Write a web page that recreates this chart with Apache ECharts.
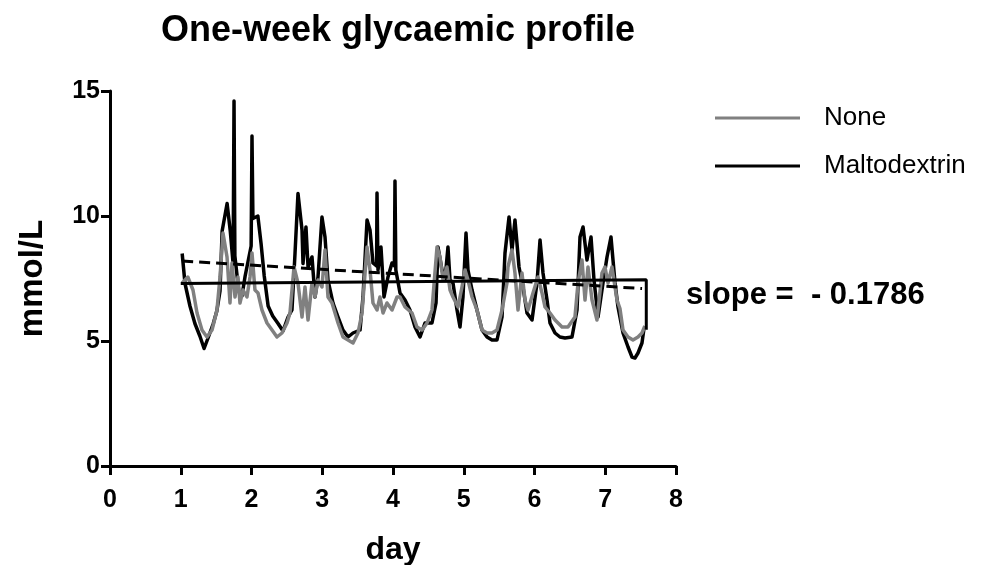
<!DOCTYPE html>
<html>
<head>
<meta charset="utf-8">
<script src="https://cdn.jsdelivr.net/npm/echarts@6/dist/echarts.min.js"></script>
<style>
html,body{margin:0;padding:0;background:#fff;}
#chart{width:1003px;height:565px;}
</style>
</head>
<body>
<div id="chart"></div>
<script>
// ---- data ----
var titleText = 'One-week glycaemic profile';
var xTicks = [0, 1, 2, 3, 4, 5, 6, 7, 8];
var yTicks = [0, 5, 10, 15];
var seriesNames = ['None', 'Maltodextrin'];
var slopeText = 'slope =  - 0.1786';

// Maltodextrin (black) glucose trace: [day, mmol/L]
var maltodextrinTrace = [
  [1.02, 8.5], [1.06, 7.3], [1.13, 6.4], [1.20, 5.7], [1.27, 5.2], [1.33, 4.7], [1.39, 5.15],
  [1.46, 5.7], [1.51, 6.2], [1.555, 7.0], [1.585, 9.4], [1.655, 10.5], [1.70, 9.4], [1.74, 8.1],
  [1.753, 14.6], [1.765, 8.4], [1.82, 7.0], [1.865, 6.8], [1.91, 7.6], [1.995, 8.8], [2.007, 13.2],
  [2.02, 9.9], [2.09, 10.0], [2.135, 8.9], [2.18, 7.6], [2.235, 6.4], [2.30, 6.0], [2.375, 5.7],
  [2.445, 5.4], [2.515, 5.95], [2.572, 6.24], [2.615, 8.5], [2.657, 10.9], [2.714, 9.44],
  [2.728, 8.1], [2.770, 9.56], [2.799, 7.96], [2.855, 8.36], [2.898, 6.76], [2.940, 7.56],
  [2.996, 9.96], [3.039, 9.16], [3.081, 7.44], [3.152, 6.52], [3.223, 5.96], [3.293, 5.44],
  [3.364, 5.16], [3.435, 5.32], [3.534, 5.44], [3.576, 6.76], [3.633, 9.84], [3.675, 9.44],
  [3.717, 8.12], [3.768, 8.0], [3.774, 10.92], [3.788, 7.84], [3.830, 8.76], [3.873, 6.76],
  [3.929, 7.56], [3.986, 8.12], [4.020, 8.0], [4.028, 11.4], [4.040, 7.84], [4.099, 6.92],
  [4.170, 6.64], [4.240, 6.24], [4.311, 5.56], [4.382, 5.16], [4.452, 5.72], [4.551, 5.72],
  [4.608, 6.52], [4.636, 8.76], [4.693, 7.84], [4.735, 7.44], [4.777, 8.76], [4.806, 7.44],
  [4.848, 7.32], [4.905, 6.24], [4.947, 5.56], [4.989, 6.76], [5.032, 9.32], [5.060, 7.84],
  [5.117, 7.04], [5.187, 6.24], [5.258, 5.44], [5.329, 5.16], [5.399, 5.04], [5.470, 5.04],
  [5.541, 5.96], [5.583, 8.52], [5.640, 9.96], [5.682, 8.64], [5.724, 9.84], [5.781, 7.96],
  [5.837, 7.16], [5.894, 6.12], [5.965, 5.84], [6.035, 7.32], [6.078, 9.04], [6.120, 7.72],
  [6.177, 6.64], [6.219, 5.72], [6.290, 5.32], [6.360, 5.16], [6.431, 5.12], [6.530, 5.16],
  [6.601, 6.24], [6.643, 9.16], [6.686, 9.56], [6.742, 8.24], [6.799, 9.16], [6.841, 7.44],
  [6.898, 5.96], [6.968, 7.32], [7.025, 8.36], [7.081, 9.16], [7.138, 7.32], [7.180, 6.36],
  [7.251, 5.32], [7.322, 4.76], [7.378, 4.36], [7.420, 4.32], [7.463, 4.52], [7.519, 4.92],
  [7.545, 5.45]
];

// None (grey) glucose trace: [day, mmol/L]
var noneTrace = [
  [1.02, 7.32], [1.10, 7.56], [1.173, 7.04], [1.230, 6.12], [1.300, 5.44], [1.371, 5.16],
  [1.442, 5.44], [1.512, 6.24], [1.555, 7.56], [1.597, 9.32], [1.654, 8.36], [1.696, 6.52],
  [1.724, 8.12], [1.767, 6.76], [1.809, 7.56], [1.837, 6.52], [1.880, 7.04], [1.936, 6.76],
  [1.979, 7.56], [2.007, 8.52], [2.049, 7.04], [2.092, 6.92], [2.148, 6.24], [2.219, 5.72],
  [2.290, 5.44], [2.360, 5.16], [2.431, 5.32], [2.502, 5.72], [2.544, 6.12], [2.601, 7.96],
  [2.657, 7.32], [2.714, 5.96], [2.756, 7.16], [2.799, 5.84], [2.855, 7.32], [2.898, 6.76],
  [2.940, 7.44], [2.996, 7.16], [3.039, 8.64], [3.081, 6.76], [3.138, 6.52], [3.223, 5.72],
  [3.293, 5.16], [3.364, 5.04], [3.435, 4.92], [3.505, 5.32], [3.562, 6.12], [3.633, 8.76],
  [3.675, 7.84], [3.717, 6.52], [3.774, 6.24], [3.816, 6.76], [3.859, 6.12], [3.915, 6.52],
  [3.986, 6.24], [4.057, 6.76], [4.099, 6.76], [4.170, 6.36], [4.269, 6.12], [4.339, 5.56],
  [4.410, 5.44], [4.481, 5.72], [4.551, 6.24], [4.622, 8.76], [4.664, 8.36], [4.707, 7.44],
  [4.763, 7.96], [4.806, 7.04], [4.848, 6.76], [4.919, 6.36], [4.975, 7.16], [5.018, 7.84],
  [5.060, 7.44], [5.117, 6.76], [5.187, 6.24], [5.258, 5.44], [5.329, 5.32], [5.399, 5.32],
  [5.470, 5.44], [5.541, 6.24], [5.611, 7.32], [5.625, 7.96], [5.682, 8.64], [5.724, 7.72],
  [5.767, 6.24], [5.823, 7.72], [5.866, 6.64], [5.908, 6.24], [5.979, 6.92], [6.049, 7.56],
  [6.106, 6.92], [6.148, 6.36], [6.219, 6.12], [6.290, 5.84], [6.389, 5.56], [6.473, 5.56],
  [6.572, 5.96], [6.615, 7.32], [6.671, 8.24], [6.714, 6.64], [6.756, 7.96], [6.813, 6.64],
  [6.883, 5.84], [6.954, 7.72], [6.996, 7.96], [7.039, 7.32], [7.095, 7.96], [7.166, 6.64],
  [7.208, 6.3], [7.251, 5.44], [7.322, 5.16], [7.392, 5.04], [7.463, 5.16], [7.519, 5.32],
  [7.56, 5.6]
];

// trend lines
var solidTrend = [[1.0, 7.3], [7.58, 7.45], [7.58, 5.45]];
var dashedTrend = [[1.02, 8.2], [7.52, 7.1]];

// ---- chart ----
var chart = echarts.init(document.getElementById('chart'), null, {renderer: 'canvas'});
var FONT = '"Liberation Sans", Arial, sans-serif';

var option = {
  backgroundColor: '#ffffff',
  animation: false,
  title: {
    text: titleText,
    left: 393,
    top: 8,
    textAlign: 'center',
    textStyle: {fontFamily: FONT, fontWeight: 'bold', fontSize: 36, color: '#000'}
  },
  legend: {
    data: seriesNames,
    orient: 'vertical',
    left: 710,
    top: 100,
    icon: 'rect',
    itemWidth: 85,
    itemHeight: 3,
    itemGap: 22,
    textStyle: {fontFamily: FONT, fontSize: 26, color: '#000', padding: [0, 0, 0, 19]}
  },
  grid: {
    left: 110, top: 91, width: 566, height: 375,
    containLabel: false,
    outerBoundsMode: 'none'
  },
  xAxis: {
    type: 'value',
    min: xTicks[0], max: xTicks[xTicks.length - 1], interval: 1,
    name: 'day',
    nameLocation: 'middle',
    nameGap: 68,
    nameTextStyle: {fontFamily: FONT, fontWeight: 'bold', fontSize: 32, color: '#000'},
    axisLine: {show: true, onZero: false, lineStyle: {color: '#000', width: 3}},
    axisTick: {show: true, length: 9, lineStyle: {color: '#000', width: 3}},
    axisLabel: {fontFamily: FONT, fontWeight: 'bold', fontSize: 25, color: '#000', margin: 22},
    splitLine: {show: false}
  },
  yAxis: {
    type: 'value',
    min: yTicks[0], max: yTicks[yTicks.length - 1], interval: 5,
    name: 'mmol/L',
    nameLocation: 'middle',
    nameRotate: 90,
    nameGap: 61,
    nameTextStyle: {fontFamily: FONT, fontWeight: 'bold', fontSize: 33, color: '#000'},
    axisLine: {show: true, onZero: false, lineStyle: {color: '#000', width: 3}},
    axisTick: {show: true, length: 9, lineStyle: {color: '#000', width: 3}},
    axisLabel: {fontFamily: FONT, fontWeight: 'bold', fontSize: 25, color: '#000', margin: 10},
    splitLine: {show: false}
  },
  series: [
    {
      name: 'Maltodextrin', type: 'line', data: maltodextrinTrace,
      showSymbol: false, symbol: 'none', smooth: false, z: 2,
      lineStyle: {color: '#000', width: 3.5, join: 'round'},
      itemStyle: {color: '#000'}
    },
    {
      name: 'None', type: 'line', data: noneTrace,
      showSymbol: false, symbol: 'none', smooth: false, z: 3,
      lineStyle: {color: '#808080', width: 3.5, join: 'round'},
      itemStyle: {color: '#808080'}
    },
    {
      name: 'trendSolid', type: 'line', data: solidTrend,
      showSymbol: false, symbol: 'none', z: 4, silent: true,
      lineStyle: {color: '#000', width: 3}
    },
    {
      name: 'trendDashed', type: 'line', data: dashedTrend,
      showSymbol: false, symbol: 'none', z: 4, silent: true,
      lineStyle: {color: '#000', width: 3, type: [11, 6]}
    }
  ],
  graphic: [
    {
      type: 'text', left: 686, top: 280,
      style: {text: slopeText, fontFamily: FONT, fontWeight: 'bold', fontSize: 31, fill: '#000'}
    }
  ]
};
chart.setOption(option);
</script>
</body>
</html>
